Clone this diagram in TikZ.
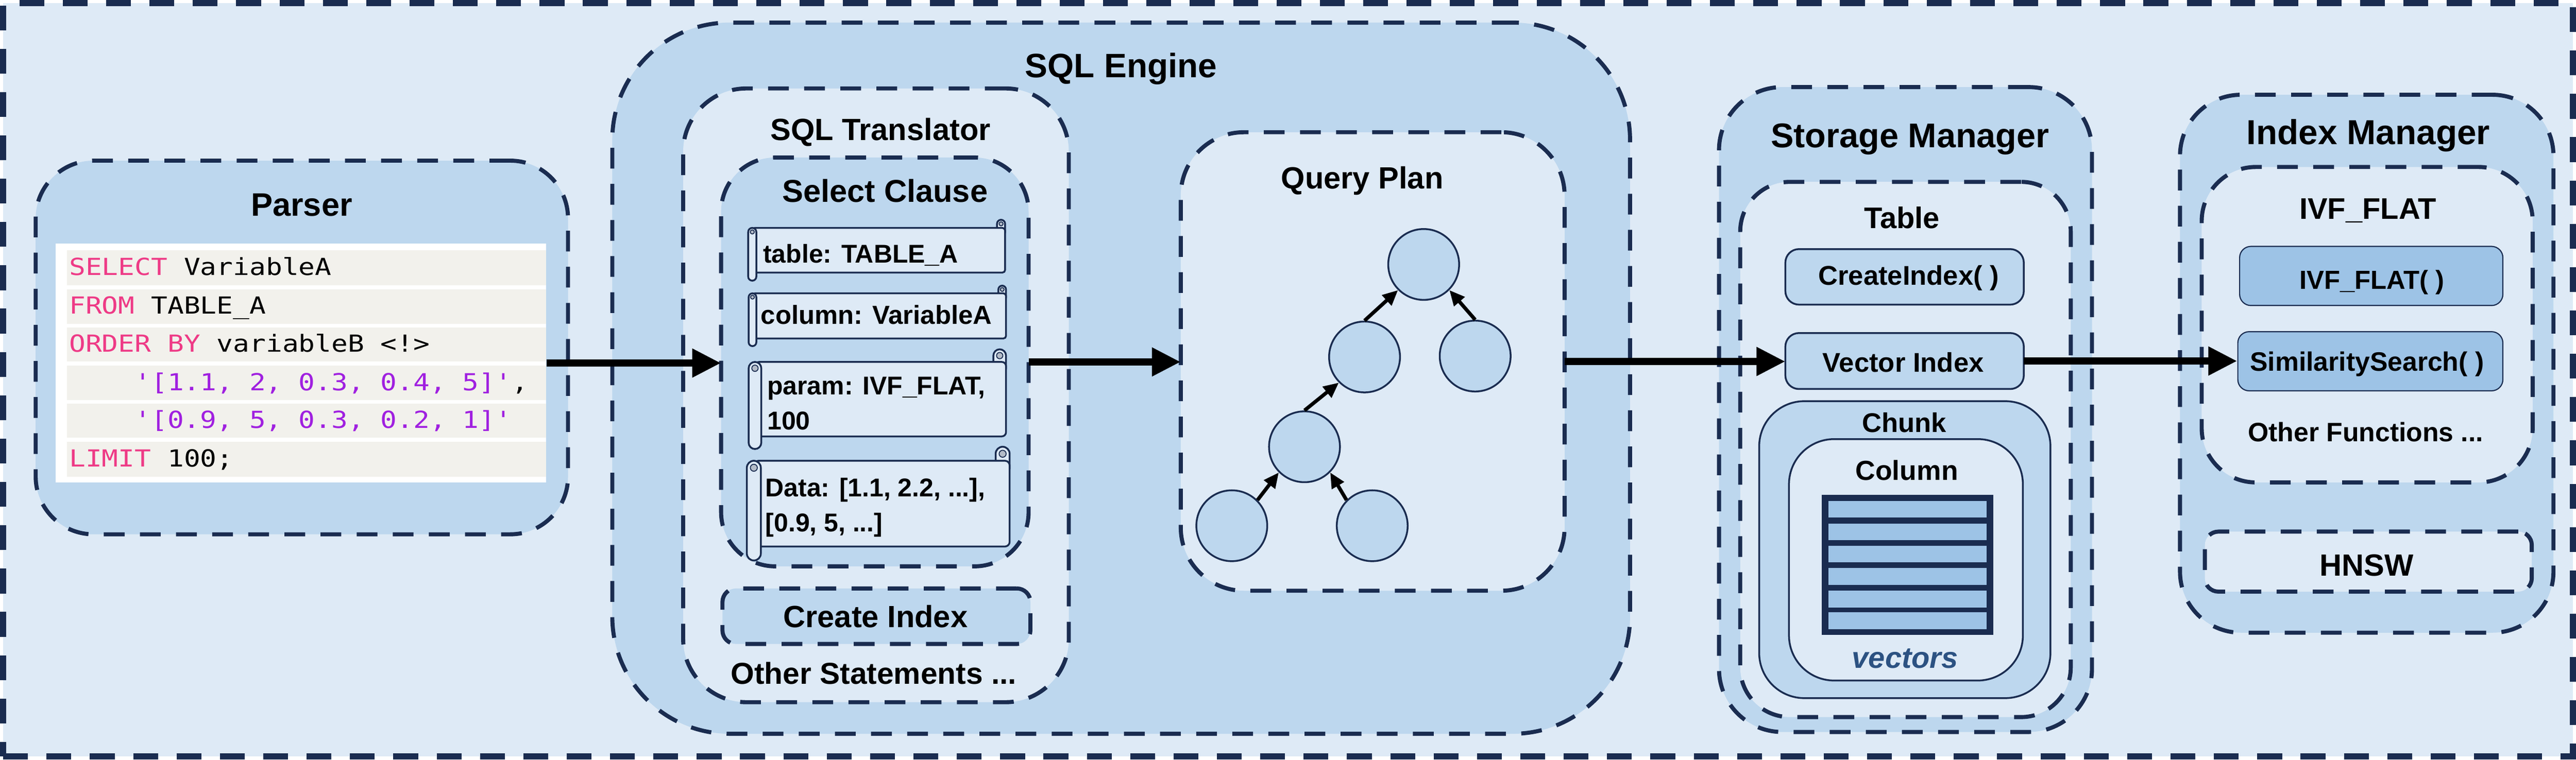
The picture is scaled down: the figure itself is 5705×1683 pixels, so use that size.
\documentclass[tikz,border=0pt]{standalone}
\usepackage{fontspec}
\setmainfont{Liberation Sans}
\newfontfamily\codefont[FakeStretch=1.16]{DejaVu Sans Mono}
\usetikzlibrary{arrows.meta}
\definecolor{bgL}{HTML}{DEEAF6}
\definecolor{bgM}{HTML}{BDD7EE}
\definecolor{bgD}{HTML}{9DC3E6}
\definecolor{navy}{HTML}{1A2C50}
\definecolor{rowbg}{HTML}{F2F1EC}
\definecolor{kw}{HTML}{EE3A86}
\definecolor{str}{HTML}{A020E0}
\definecolor{vec}{HTML}{2C5282}
\definecolor{curlc}{HTML}{B4BCC8}
\newcommand\mybox[6]{\node[#6, minimum width={#4-#2}, minimum height={#5-#3}] (#1) at ({(#2+#4)/2},{(#3+#5)/2}) {};}
\newcommand\scrollshape[5]{%
  \draw[scrl, rounded corners={#5/2}] ({#3-#5},#2) rectangle (#3,{#2+2*#5});
  \filldraw[fill=curlc, draw=navy, line width=2pt] ({#3-#5/2},{#2+#5/2}) circle[radius={#5/4}];
  \draw[scrl, rounded corners={#5/3}] ({#1+#5/2},{#2+#5}) rectangle (#3,{#4-#5});
  \draw[scrl, rounded corners={#5/2}] (#1,{#2+#5}) rectangle ({#1+#5},#4);
  \filldraw[fill=curlc, draw=navy, line width=2pt] ({#1+#5/2},{#2+1.5*#5}) circle[radius={#5/4}];
}
\begin{document}
\begin{tikzpicture}[x=1pt,y=-1pt,
  dbox/.style={draw=navy, line width=9pt, dash pattern=on 46pt off 34pt, rounded corners=#1, inner sep=0pt, outer sep=0pt},
  sbox/.style={draw=navy, line width=4pt, rounded corners=#1, inner sep=0pt, outer sep=0pt},
  scrl/.style={draw=navy, fill=bgL, line width=4pt},
  lbl/.style={inner sep=0pt, anchor=base, font=\bfseries\fontsize{#1}{#1}\selectfont},
  code/.style={inner sep=0pt, anchor=base west, font=\codefont\fontsize{52}{52}\selectfont},
  qnode/.style={circle, draw=navy, fill=bgM, line width=4pt, minimum size=157pt, inner sep=0pt},
  bigarrow/.style={line width=16pt, -{Triangle[length=64pt,width=60pt]}},
  smallarrow/.style={line width=8pt, -{Triangle[length=34pt,width=30pt]}}
]
\useasboundingbox (0,0) rectangle (5705,1683);
% outer frame
\mybox{frame}{7}{7}{5698}{1676}{draw=navy, fill=bgL, line width=14pt, dash pattern=on 55pt off 41pt, inner sep=0pt}

% Parser
\mybox{parser}{79}{356}{1258}{1184}{dbox=128pt, fill=bgM}
\node[lbl=72] (tParser) at (668,479) {Parser};
\mybox{code}{123}{540}{1210}{1069}{fill=white, inner sep=0pt}
\fill[rowbg] (148,555) rectangle (1210,632);
\fill[rowbg] (148,641) rectangle (1210,718);
\fill[rowbg] (148,726) rectangle (1210,801);
\fill[rowbg] (148,810) rectangle (1210,886);
\fill[rowbg] (148,895) rectangle (1210,970);
\fill[rowbg] (148,979) rectangle (1210,1056);
\node[code] (l1) at (153,610) {\textcolor{kw}{SELECT} VariableA};
\node[code] (l2) at (153,696) {\textcolor{kw}{FROM} TABLE\_A};
\node[code] (l3) at (153,780) {\textcolor{kw}{ORDER BY} variableB <!>};
\node[code] (l4) at (298,865) {\textcolor{str}{'[1.1, 2, 0.3, 0.4, 5]'},};
\node[code] (l5) at (298,949) {\textcolor{str}{'[0.9, 5, 0.3, 0.2, 1]'}};
\node[code] (l6) at (153,1034) {\textcolor{kw}{LIMIT} 100;};

% SQL Engine
\mybox{engine}{1356}{50}{3610}{1626}{dbox=260pt, fill=bgM}
\node[lbl=75] (tEngine) at (2483,172) {SQL Engine};
\mybox{trans}{1513}{196}{2367}{1556}{dbox=140pt, fill=bgL}
\node[lbl=68] (tTrans) at (1950,311) {SQL Translator};
\mybox{select}{1597}{349}{2278}{1255}{dbox=120pt, fill=bgM}
\node[lbl=70] (tSelect) at (1960,448) {Select Clause};
\scrollshape{1657}{487}{2226}{622}{18}
\node[lbl=57, anchor=base west] (s1) at (1690,582) {table: TABLE\_A};
\scrollshape{1658}{633}{2228}{767}{17}
\node[lbl=58, anchor=base west] (s2) at (1685,718) {column: VariableA};
\scrollshape{1658}{774}{2228}{995}{28}
\node[lbl=57, anchor=base west] (s3a) at (1699,875) {param: IVF\_FLAT,};
\node[lbl=57, anchor=base west] (s3b) at (1699,952) {100};
\scrollshape{1654}{990}{2236}{1242}{31}
\node[lbl=57, anchor=base west] (s4a) at (1695,1100) {Data: [1.1, 2.2, ...],};
\node[lbl=57, anchor=base west] (s4b) at (1695,1178) {[0.9, 5, ...]};
\mybox{cindex}{1600}{1304}{2282}{1427}{dbox=30pt, fill=bgM}
\node[lbl=68] (tCI) at (1939,1390) {Create Index};
\node[lbl=67] (tOS) at (1935,1516) {Other Statements ...};

% Query Plan
\mybox{qp}{2615}{293}{3465}{1309}{dbox=140pt, fill=bgL}
\node[lbl=68] (tQP) at (3017,418) {Query Plan};
\node[qnode] (c1) at (3153,586) {};
\node[qnode] (c2) at (3022,791) {};
\node[qnode] (c3) at (3267,789) {};
\node[qnode] (c4) at (2889,990) {};
\node[qnode] (c5) at (2728,1165) {};
\node[qnode] (c6) at (3039,1165) {};
\draw[smallarrow] (c2.north) -- (c1.225);
\draw[smallarrow] (c3.north) -- (c1.-45);
\draw[smallarrow] (c4.north) -- (c2.225);
\draw[smallarrow] (c5.45) -- (c4.225);
\draw[smallarrow] (c6.135) -- (c4.-45);

% Storage Manager
\mybox{storage}{3807}{193}{4633}{1622}{dbox=140pt, fill=bgM}
\node[lbl=76] (tSM) at (4230,327) {Storage Manager};
\mybox{table}{3854}{403}{4586}{1589}{dbox=110pt, fill=bgL}
\node[lbl=66] (tTable) at (4212,506) {Table};
\mybox{cif}{3954}{552}{4482}{675}{sbox=30pt, fill=bgM}
\node[lbl=60] (tCIf) at (4227,632) {CreateIndex( )};
\mybox{vidx}{3954}{738}{4482}{862}{sbox=30pt, fill=bgM}
\node[lbl=60] (tVI) at (4215,824) {Vector Index};
\mybox{chunk}{3896}{889}{4541}{1547}{sbox=100pt, fill=bgM}
\node[lbl=60] (tChunk) at (4217,958) {Chunk};
\mybox{column}{3962}{973}{4480}{1508}{sbox=100pt, fill=bgL}
\node[lbl=61] (tCol) at (4223,1064) {Column};
\mybox{grid}{4035}{1097}{4415}{1407}{fill=navy, inner sep=0pt}
\foreach \yy in {1110,1160,1209,1259,1309,1357} {\fill[bgD] (4049,\yy) rectangle (4400,\yy+37);}
\node[inner sep=0pt, anchor=base, text=vec, font=\bfseries\itshape\fontsize{66}{66}\selectfont] (tVec) at (4219,1481) {vectors};

% Index Manager
\mybox{imgr}{4828}{210}{5655}{1402}{dbox=135pt, fill=bgM}
\node[lbl=77] (tIM) at (5245,320) {Index Manager};
\mybox{ivf}{4876}{370}{5609}{1069}{dbox=120pt, fill=bgL}
\node[lbl=66] (tIVF) at (5244,486) {IVF\_FLAT};
\mybox{ivff}{4960}{546}{5543}{677}{draw=navy, line width=2.5pt, rounded corners=25pt, fill=bgD, inner sep=0pt}
\node[lbl=58] (tIVFf) at (5253,641) {IVF\_FLAT( )};
\mybox{sim}{4956}{735}{5543}{866}{draw=navy, line width=2.5pt, rounded corners=25pt, fill=bgD, inner sep=0pt}
\node[lbl=59] (tSim) at (5242,822) {SimilaritySearch( )};
\node[lbl=59] (tOF) at (5239,978) {Other Functions ...};
\mybox{hnsw}{4883}{1178}{5607}{1311}{dbox=30pt, fill=bgL}
\node[lbl=68] (tHNSW) at (5241,1276) {HNSW};

% main arrows
\draw[bigarrow] (code.east) -- (code.east -| select.west);
\draw[bigarrow] (select.east) -- (select.east -| qp.west);
\draw[bigarrow] (qp.east) -- (qp.east -| vidx.west);
\draw[bigarrow] (vidx.east) -- (vidx.east -| sim.west);
\end{tikzpicture}
\end{document}
